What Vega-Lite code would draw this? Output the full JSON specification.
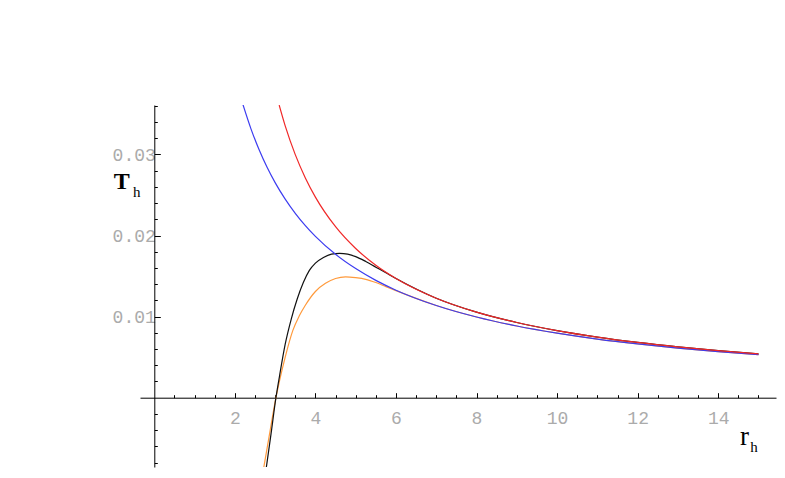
{
  "$schema": "https://vega.github.io/schema/vega-lite/v6.json",
  "width": 636,
  "height": 362,
  "autosize": {"type": "none"},
  "padding": {"left": 140, "top": 105, "right": 9, "bottom": 11},
  "background": "white",
  "config": {
    "view": {"stroke": null},
    "axis": {"grid": false, "domainColor": "#000", "tickColor": "#000", "domainWidth": 1, "tickWidth": 1, "labelFlush": false, "labelOverlap": false}
  },
  "data": {
    "values": [
      {"series": "blue", "r": 2.2, "T": 0.03617},
      {"series": "blue", "r": 2.4, "T": 0.03316},
      {"series": "blue", "r": 2.6, "T": 0.03061},
      {"series": "blue", "r": 2.8, "T": 0.02842},
      {"series": "blue", "r": 3.0, "T": 0.02653},
      {"series": "blue", "r": 3.25, "T": 0.02449},
      {"series": "blue", "r": 3.5, "T": 0.02274},
      {"series": "blue", "r": 3.75, "T": 0.02122},
      {"series": "blue", "r": 4.0, "T": 0.01989},
      {"series": "blue", "r": 4.5, "T": 0.01768},
      {"series": "blue", "r": 5.0, "T": 0.01592},
      {"series": "blue", "r": 5.5, "T": 0.01447},
      {"series": "blue", "r": 6.0, "T": 0.01326},
      {"series": "blue", "r": 7.0, "T": 0.01137},
      {"series": "blue", "r": 8.0, "T": 0.00995},
      {"series": "blue", "r": 9.0, "T": 0.00884},
      {"series": "blue", "r": 10.0, "T": 0.00796},
      {"series": "blue", "r": 11.0, "T": 0.00723},
      {"series": "blue", "r": 12.0, "T": 0.00663},
      {"series": "blue", "r": 13.0, "T": 0.00612},
      {"series": "blue", "r": 14.0, "T": 0.00568},
      {"series": "blue", "r": 15.0, "T": 0.00531},
      {"series": "red", "r": 3.1, "T": 0.03609},
      {"series": "red", "r": 3.25, "T": 0.03352},
      {"series": "red", "r": 3.5, "T": 0.02998},
      {"series": "red", "r": 3.75, "T": 0.02711},
      {"series": "red", "r": 4.0, "T": 0.02474},
      {"series": "red", "r": 4.5, "T": 0.02109},
      {"series": "red", "r": 5.0, "T": 0.0184},
      {"series": "red", "r": 5.5, "T": 0.01633},
      {"series": "red", "r": 6.0, "T": 0.0147},
      {"series": "red", "r": 7.0, "T": 0.01227},
      {"series": "red", "r": 8.0, "T": 0.01055},
      {"series": "red", "r": 9.0, "T": 0.00927},
      {"series": "red", "r": 10.0, "T": 0.00827},
      {"series": "red", "r": 11.0, "T": 0.00747},
      {"series": "red", "r": 12.0, "T": 0.00681},
      {"series": "red", "r": 13.0, "T": 0.00626},
      {"series": "red", "r": 14.0, "T": 0.0058},
      {"series": "red", "r": 15.0, "T": 0.0054},
      {"series": "black", "r": 2.75, "T": -0.0097},
      {"series": "black", "r": 2.9, "T": -0.0044},
      {"series": "black", "r": 3.02, "T": 0.0},
      {"series": "black", "r": 3.11, "T": 0.0027},
      {"series": "black", "r": 3.25, "T": 0.0066},
      {"series": "black", "r": 3.4, "T": 0.0097},
      {"series": "black", "r": 3.55, "T": 0.0122},
      {"series": "black", "r": 3.7, "T": 0.0142},
      {"series": "black", "r": 3.85, "T": 0.0157},
      {"series": "black", "r": 4.0, "T": 0.0166},
      {"series": "black", "r": 4.2, "T": 0.0173},
      {"series": "black", "r": 4.4, "T": 0.0177},
      {"series": "black", "r": 4.6, "T": 0.0178},
      {"series": "black", "r": 4.8, "T": 0.0177},
      {"series": "black", "r": 5.0, "T": 0.0174},
      {"series": "black", "r": 5.25, "T": 0.0168},
      {"series": "black", "r": 5.5, "T": 0.0161},
      {"series": "black", "r": 5.75, "T": 0.0154},
      {"series": "black", "r": 6.0, "T": 0.0147},
      {"series": "black", "r": 7.0, "T": 0.01227},
      {"series": "black", "r": 8.0, "T": 0.01055},
      {"series": "black", "r": 9.0, "T": 0.00927},
      {"series": "black", "r": 10.0, "T": 0.00827},
      {"series": "black", "r": 11.0, "T": 0.00747},
      {"series": "black", "r": 12.0, "T": 0.00681},
      {"series": "black", "r": 13.0, "T": 0.00626},
      {"series": "black", "r": 14.0, "T": 0.0058},
      {"series": "black", "r": 15.0, "T": 0.0054},
      {"series": "orange", "r": 2.68, "T": -0.0097},
      {"series": "orange", "r": 2.85, "T": -0.0048},
      {"series": "orange", "r": 3.02, "T": 0.0},
      {"series": "orange", "r": 3.11, "T": 0.0021},
      {"series": "orange", "r": 3.25, "T": 0.005},
      {"series": "orange", "r": 3.44, "T": 0.0083},
      {"series": "orange", "r": 3.6, "T": 0.0101},
      {"series": "orange", "r": 3.75, "T": 0.0114},
      {"series": "orange", "r": 4.0, "T": 0.0131},
      {"series": "orange", "r": 4.25, "T": 0.0141},
      {"series": "orange", "r": 4.5, "T": 0.0147},
      {"series": "orange", "r": 4.75, "T": 0.0149},
      {"series": "orange", "r": 5.0, "T": 0.0148},
      {"series": "orange", "r": 5.25, "T": 0.0146},
      {"series": "orange", "r": 5.5, "T": 0.0142},
      {"series": "orange", "r": 5.75, "T": 0.0137},
      {"series": "orange", "r": 6.0, "T": 0.0132},
      {"series": "orange", "r": 7.0, "T": 0.01137},
      {"series": "orange", "r": 8.0, "T": 0.00995},
      {"series": "orange", "r": 9.0, "T": 0.00884},
      {"series": "orange", "r": 10.0, "T": 0.00796},
      {"series": "orange", "r": 11.0, "T": 0.00723},
      {"series": "orange", "r": 12.0, "T": 0.00663},
      {"series": "orange", "r": 13.0, "T": 0.00612},
      {"series": "orange", "r": 14.0, "T": 0.00568},
      {"series": "orange", "r": 15.0, "T": 0.00531}
    ]
  },
  "resolve": {"axis": {"x": "independent", "y": "independent"}},
  "layer": [
    {
      "transform": [{"filter": "datum.series === 'orange'"}],
      "mark": {"type": "line", "color": "#ff9a3c", "strokeWidth": 1.2, "clip": true, "interpolate": "monotone"},
      "encoding": {
        "x": {"field": "r", "type": "quantitative", "scale": {"domain": [-0.355, 15.435], "nice": false, "zero": false},
          "axis": {"orient": "bottom", "offset": -69.3, "values": [2, 4, 6, 8, 10, 12, 14], "tickSize": -5, "labelPadding": 31, "labelBaseline": "alphabetic", "labelFont": "Liberation Mono", "labelFontSize": 18, "labelColor": "#ababab", "title": "r", "titleX": 604, "titleY": 47, "titleAlign": "center", "titleBaseline": "alphabetic", "titleFont": "Liberation Serif", "titleFontSize": 27, "titleFontWeight": "normal", "titleColor": "#000"}},
        "y": {"field": "T", "type": "quantitative", "scale": {"domain": [-0.00855, 0.0361], "nice": false, "zero": false},
          "axis": {"orient": "left", "offset": -14.3, "values": [0.01, 0.02, 0.03], "format": ".2f", "tickSize": -6, "labelPadding": 5, "labelAlign": "right", "labelBaseline": "alphabetic", "labelOffset": 6, "labelFont": "Liberation Mono", "labelFontSize": 18, "labelColor": "#ababab", "title": "T", "titleX": -33, "titleY": 83, "titleAngle": 0, "titleAlign": "center", "titleBaseline": "alphabetic", "titleFont": "Liberation Serif", "titleFontSize": 24, "titleFontWeight": "bold", "titleColor": "#000"}}
      }
    },
    {
      "transform": [{"filter": "datum.series === 'black'"}],
      "mark": {"type": "line", "color": "#111111", "strokeWidth": 1.2, "clip": true, "interpolate": "monotone"},
      "encoding": {
        "x": {"field": "r", "type": "quantitative", "scale": {"domain": [-0.355, 15.435], "nice": false, "zero": false},
          "axis": {"orient": "bottom", "offset": -69.3, "values": [0.5, 1, 1.5, 2.5, 3, 3.5, 4.5, 5, 5.5, 6.5, 7, 7.5, 8.5, 9, 9.5, 10.5, 11, 11.5, 12.5, 13, 13.5, 14.5, 15], "tickSize": -3, "labels": false, "domain": false, "title": "h", "titleX": 613.5, "titleY": 54, "titleAlign": "center", "titleBaseline": "alphabetic", "titleFont": "Liberation Serif", "titleFontSize": 15, "titleFontWeight": "normal", "titleColor": "#000"}},
        "y": {"field": "T", "type": "quantitative", "scale": {"domain": [-0.00855, 0.0361], "nice": false, "zero": false},
          "axis": {"orient": "left", "offset": -14.3, "values": [-0.008, -0.006, -0.004, -0.002, 0.002, 0.004, 0.006, 0.008, 0.012, 0.014, 0.016, 0.018, 0.022, 0.024, 0.026, 0.028, 0.032, 0.034, 0.036], "tickSize": -3, "labels": false, "domain": false, "title": "h", "titleX": -18, "titleY": 91, "titleAngle": 0, "titleAlign": "center", "titleBaseline": "alphabetic", "titleFont": "Liberation Serif", "titleFontSize": 15, "titleFontWeight": "normal", "titleColor": "#000"}}
      }
    },
    {
      "transform": [{"filter": "datum.series === 'blue'"}],
      "mark": {"type": "line", "color": "#3c3cf0", "strokeWidth": 1.2, "clip": true, "interpolate": "monotone"},
      "encoding": {
        "x": {"field": "r", "type": "quantitative", "scale": {"domain": [-0.355, 15.435], "nice": false, "zero": false}, "axis": null},
        "y": {"field": "T", "type": "quantitative", "scale": {"domain": [-0.00855, 0.0361], "nice": false, "zero": false}, "axis": null}
      }
    },
    {
      "transform": [{"filter": "datum.series === 'red'"}],
      "mark": {"type": "line", "color": "#f02828", "strokeWidth": 1.2, "clip": true, "interpolate": "monotone"},
      "encoding": {
        "x": {"field": "r", "type": "quantitative", "scale": {"domain": [-0.355, 15.435], "nice": false, "zero": false}, "axis": null},
        "y": {"field": "T", "type": "quantitative", "scale": {"domain": [-0.00855, 0.0361], "nice": false, "zero": false}, "axis": null}
      }
    }
  ]
}
